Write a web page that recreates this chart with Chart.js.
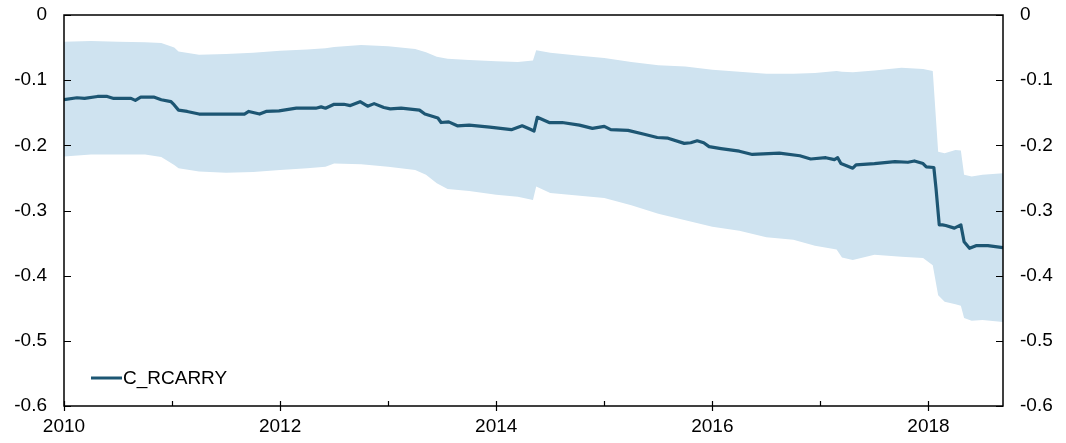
<!DOCTYPE html>
<html>
<head>
<meta charset="utf-8">
<script src="https://cdn.jsdelivr.net/npm/chart.js@4.4.1/dist/chart.umd.min.js"></script>
<style>
  html, body { margin: 0; padding: 0; background: #fff; }
  #wrap { width: 1066px; height: 443px; }
</style>
</head>
<body>
<div id="wrap"><canvas id="c" width="1066" height="443"></canvas></div>
<script>
// ---- Data (decimal years) ----
const seriesName = "C_RCARRY";

const lineX = [2010.00, 2010.12, 2010.19, 2010.31, 2010.40, 2010.46, 2010.54, 2010.62, 2010.66, 2010.71,
  2010.83, 2010.90, 2010.99, 2011.02, 2011.06, 2011.14, 2011.25, 2011.50, 2011.67, 2011.71,
  2011.81, 2011.87, 2011.99, 2012.15, 2012.33, 2012.38, 2012.42, 2012.50, 2012.59, 2012.65,
  2012.74, 2012.81, 2012.87, 2012.96, 2013.02, 2013.12, 2013.29, 2013.34, 2013.46, 2013.49,
  2013.56, 2013.64, 2013.75, 2013.94, 2014.14, 2014.24, 2014.31, 2014.35, 2014.38, 2014.49,
  2014.61, 2014.77, 2014.89, 2015.00, 2015.06, 2015.22, 2015.37, 2015.49, 2015.59, 2015.74,
  2015.80, 2015.86, 2015.92, 2015.97, 2016.08, 2016.25, 2016.37, 2016.62, 2016.81, 2016.91,
  2017.05, 2017.13, 2017.16, 2017.19, 2017.30, 2017.33, 2017.50, 2017.69, 2017.81, 2017.87,
  2017.95, 2017.98, 2018.05, 2018.07, 2018.10, 2018.13, 2018.16, 2018.24, 2018.30, 2018.33,
  2018.38, 2018.44, 2018.55, 2018.69];

const lineY = [-0.130, -0.127, -0.128, -0.125, -0.125, -0.128, -0.128, -0.128, -0.131, -0.126,
  -0.126, -0.130, -0.133, -0.138, -0.146, -0.148, -0.152, -0.152, -0.152, -0.148,
  -0.152, -0.148, -0.147, -0.143, -0.143, -0.141, -0.143, -0.137, -0.137, -0.139,
  -0.133, -0.140, -0.136, -0.142, -0.144, -0.143, -0.146, -0.152, -0.158, -0.165,
  -0.164, -0.170, -0.169, -0.172, -0.176, -0.170, -0.175, -0.178, -0.157, -0.165,
  -0.165, -0.169, -0.174, -0.171, -0.176, -0.177, -0.183, -0.188, -0.189, -0.197,
  -0.196, -0.193, -0.196, -0.202, -0.205, -0.209, -0.214, -0.212, -0.216, -0.221,
  -0.219, -0.222, -0.219, -0.228, -0.235, -0.230, -0.228, -0.225, -0.226, -0.224,
  -0.228, -0.233, -0.234, -0.266, -0.322, -0.322, -0.323, -0.327, -0.322, -0.348,
  -0.358, -0.354, -0.354, -0.357];

const bandX = [2010.00, 2010.25, 2010.50, 2010.75, 2010.90, 2011.02, 2011.06, 2011.25, 2011.50, 2011.75,
  2012.00, 2012.25, 2012.42, 2012.50, 2012.75, 2013.00, 2013.25, 2013.35, 2013.45, 2013.55,
  2013.75, 2014.00, 2014.20, 2014.34, 2014.37, 2014.50, 2014.75, 2015.00, 2015.25, 2015.50,
  2015.75, 2016.00, 2016.25, 2016.50, 2016.75, 2016.95, 2017.15, 2017.20, 2017.30, 2017.50,
  2017.75, 2017.95, 2018.04, 2018.09, 2018.15, 2018.25, 2018.30, 2018.33, 2018.40, 2018.50,
  2018.69];

const bandUpper = [-0.041, -0.040, -0.041, -0.042, -0.043, -0.050, -0.056, -0.061, -0.060, -0.058,
  -0.055, -0.053, -0.051, -0.049, -0.046, -0.048, -0.052, -0.057, -0.064, -0.067,
  -0.069, -0.071, -0.072, -0.070, -0.054, -0.058, -0.062, -0.066, -0.072, -0.077,
  -0.079, -0.084, -0.087, -0.090, -0.090, -0.089, -0.086, -0.087, -0.088, -0.085,
  -0.081, -0.083, -0.086, -0.210, -0.212, -0.207, -0.208, -0.245, -0.248, -0.245,
  -0.243];

const bandLower = [-0.217, -0.214, -0.214, -0.214, -0.218, -0.230, -0.235, -0.240, -0.242, -0.241,
  -0.238, -0.235, -0.233, -0.228, -0.229, -0.233, -0.238, -0.245, -0.258, -0.267,
  -0.270, -0.276, -0.279, -0.284, -0.263, -0.273, -0.277, -0.281, -0.292, -0.305,
  -0.315, -0.325, -0.331, -0.341, -0.345, -0.354, -0.360, -0.372, -0.376, -0.368,
  -0.371, -0.373, -0.384, -0.430, -0.440, -0.444, -0.446, -0.465, -0.469, -0.468,
  -0.471];

const xMin = 2010, xMax = 2018.69;
const yMin = -0.6, yMax = 0;

// ---- Styling ----
const FONT = "'Liberation Sans', Arial, sans-serif";
const lineColor = "#1d5673";
const bandColor = "rgb(207,227,240)";

const toPts = (xs, ys) => xs.map((x, i) => ({ x: x, y: ys[i] }));
const fmtY = v => String(Math.round(v * 10) / 10);

const framePlugin = {
  id: 'frame',
  afterDraw(chart) {
    const ctx = chart.ctx, a = chart.chartArea;
    const xs = chart.scales.x, ys = chart.scales.y;
    ctx.save();
    ctx.strokeStyle = '#000';
    ctx.lineWidth = 1.5;
    ctx.strokeRect(a.left, a.top, a.right - a.left, a.bottom - a.top);
    ctx.lineWidth = 1.2;
    ctx.beginPath();
    for (let k = 0; k <= 6; k++) {
      const py = Math.round(ys.getPixelForValue(-k / 10)) + 0.5;
      ctx.moveTo(a.left, py); ctx.lineTo(a.left + 7, py);
      ctx.moveTo(a.right, py); ctx.lineTo(a.right - 7, py);
    }
    for (let yr = 2010; yr <= 2018; yr++) {
      const px = Math.round(xs.getPixelForValue(yr)) + 0.5;
      ctx.moveTo(px, a.bottom - 5);
      ctx.lineTo(px, yr % 2 === 0 ? a.bottom + 5 : a.bottom);
    }
    ctx.stroke();
    // legend
    const ly = 378;
    ctx.strokeStyle = lineColor;
    ctx.lineWidth = 3;
    ctx.beginPath();
    ctx.moveTo(91, ly); ctx.lineTo(122, ly);
    ctx.stroke();
    ctx.fillStyle = '#000';
    ctx.font = '19px ' + FONT;
    ctx.textBaseline = 'middle';
    ctx.textAlign = 'left';
    ctx.fillText(seriesName, 123, ly + 1);
    ctx.restore();
  }
};

const fitV = w => s => { s.width = w; s.paddingTop = 0; s.paddingBottom = 0; };

new Chart(document.getElementById('c'), {
  type: 'line',
  data: {
    datasets: [
      {
        label: seriesName,
        data: toPts(lineX, lineY),
        borderColor: lineColor, borderWidth: 3.2,
        pointRadius: 0, fill: false, tension: 0,
        borderJoinStyle: 'round'
      },
      {
        label: 'lower',
        data: toPts(bandX, bandLower),
        borderWidth: 0, pointRadius: 0, borderColor: 'rgba(0,0,0,0)',
        fill: false, tension: 0
      },
      {
        label: 'upper',
        data: toPts(bandX, bandUpper),
        borderWidth: 0, pointRadius: 0, borderColor: 'rgba(0,0,0,0)',
        backgroundColor: bandColor,
        fill: '-1', tension: 0
      }
    ]
  },
  options: {
    responsive: false,
    animation: false,
    events: [],
    layout: { padding: { top: 15, left: 0, right: 0, bottom: 0 } },
    plugins: { legend: { display: false }, tooltip: { enabled: false } },
    scales: {
      x: {
        type: 'linear', min: xMin, max: xMax,
        grid: { display: false, drawTicks: false },
        border: { display: false },
        afterFit: s => { s.height = 37; s.paddingLeft = 0; s.paddingRight = 0; },
        ticks: {
          stepSize: 1, includeBounds: false, autoSkip: false, maxRotation: 0,
          padding: 9, color: '#000', font: { family: FONT, size: 19 },
          callback: v => (Math.round(v) % 2 === 0 ? String(Math.round(v)) : '')
        }
      },
      y: {
        position: 'left', min: yMin, max: yMax,
        grid: { display: false, drawTicks: false },
        border: { display: false },
        afterFit: fitV(64),
        ticks: { stepSize: 0.1, padding: 17, color: '#000', font: { family: FONT, size: 19 }, callback: fmtY }
      },
      y2: {
        position: 'right', min: yMin, max: yMax,
        grid: { display: false, drawTicks: false },
        border: { display: false },
        afterFit: fitV(63),
        ticks: { stepSize: 0.1, padding: 17, color: '#000', font: { family: FONT, size: 19 }, callback: fmtY }
      }
    }
  },
  plugins: [framePlugin]
});
</script>
</body>
</html>
